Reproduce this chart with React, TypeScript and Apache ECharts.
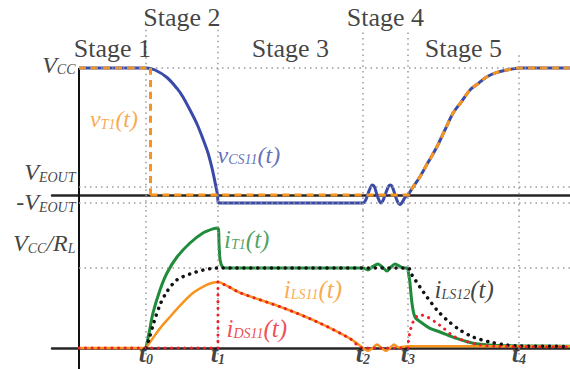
import React, { useEffect, useRef } from "react";
import * as echarts from "echarts";

type Pt = [number, number];

const SERIF = "Liberation Serif";
const BLUE = "#3a4aa8";
const ORANGE = "#f7941d";
const GREEN = "#1f8b3b";
const RED = "#ec2028";
const INK = "#111111";
const GUIDE = "#9a9a9a";

// Time axis (arbitrary units) and the switching instants t0..t4
const X_MIN = -3.75;
const X_MAX = 68.2;
const tInstants = [9.3, 19.3, 39.44, 45.69, 61.1];
const tSubscripts = ["0", "1", "2", "3", "4"];
const tGuideTop = [1.3, 1.3, 1.28, 1.28, 1.1];

// Stage names, placed between consecutive instants
const stageNames = ["Stage 1", "Stage 2", "Stage 3", "Stage 4", "Stage 5"];
const stageBounds = [0, ...tInstants];
const stageLevel = [1.157, 1.394, 1.157, 1.394, 1.157];

// Voltage panel (normalised to V_CC)
const V_MIN = -0.118;
const V_MAX = 1.535;
const vLevels = [1, 0.063, -0.063];
const vLevelLabels = ["{m|V}{s|CC}", "{m|V}{s|EOUT}", "{m|-V}{s|EOUT}"];
const vLevelOffsets = [-3, -15, -1];

// Current panel (normalised to V_CC / R_L)
const I_MIN = -0.2625;
const I_MAX = 1.725;
const iLevels = [1];
const iLevelLabels = ["{m|V}{s|CC}{m|/R}{s|L}"];
const iLevelOffsets = [-25];

// v_CS11: fall during stage 2
const vCS11Fall: Pt[] = [
  [9.3, 1], [10.56, 0.984], [12.22, 0.925], [13.61, 0.839], [14.44, 0.772],
  [15.42, 0.669], [16.39, 0.559], [17.22, 0.441], [17.92, 0.331], [18.47, 0.213],
  [18.89, 0.102], [19.24, 0], [19.38, -0.063],
];
// v_CS11: resonant ripple during stage 4
const vCS11Ripple: Pt[] = [
  [39.44, -0.063], [39.86, -0.035], [40.2, 0.02], [40.56, 0.068], [40.76, 0.079],
  [41.04, 0.065], [41.39, 0.0], [41.74, -0.05], [41.94, -0.063], [42.22, -0.045],
  [42.64, 0.02], [42.99, 0.068], [43.26, 0.079], [43.54, 0.062], [43.96, -0.01],
  [44.31, -0.06], [44.58, -0.075], [44.86, -0.06], [45.28, -0.02],
];
// Common rising edge of v_T1 and v_CS11 in stage 5
const vRise: Pt[] = [
  [45.69, 0], [46.25, 0.05], [47.36, 0.144], [48.47, 0.255], [49.72, 0.38],
  [50.83, 0.512], [51.94, 0.643], [53.06, 0.73], [54.31, 0.827], [55.42, 0.876],
  [56.67, 0.931], [58.06, 0.965], [59.44, 0.984], [61.25, 1.0], [68.2, 1.0],
];
const vT1Step = 9.93;

// i_T1
const iT1Rise: Pt[] = [
  [9.31, 0], [9.8, 0.22], [10.28, 0.44], [11.25, 0.725], [12.22, 0.9375],
  [13.61, 1.1375], [15.42, 1.3125], [17.22, 1.4375], [18.61, 1.49], [19.31, 1.5],
  [19.45, 1.3], [19.6, 1.1], [19.95, 1.01], [20.4, 1.0],
];
const iT1Ripple: Pt[] = [
  [39.44, 1.0], [40.14, 0.975], [40.83, 1.02], [41.53, 1.05], [42.15, 1.01],
  [42.78, 0.9625], [43.33, 1.01], [43.89, 1.05], [44.58, 1.02], [45.0, 1.0], [45.56, 1.0],
];
const iT1Fall: Pt[] = [
  [45.83, 0.9], [45.97, 0.8125], [46.25, 0.5625], [46.67, 0.3875], [47.64, 0.3125],
  [48.75, 0.246], [50.14, 0.2], [52.45, 0.12], [54.76, 0.06], [57.54, 0.035],
  [60.3, 0.027], [68.2, 0.022],
];

// i_LS11
const iLS11Rise: Pt[] = [
  [9.31, 0], [10.32, 0.13], [11.25, 0.245], [12.64, 0.39], [14.03, 0.53],
  [15.87, 0.69], [17.73, 0.79], [18.7, 0.818],
];
const iLS11Decay: Pt[] = [
  [19.3, 0.825], [20.6, 0.775], [22.4, 0.69], [28.4, 0.5], [33.0, 0.33],
  [37.6, 0.12], [39.44, 0],
];
const iLS11Ripple: Pt[] = [
  [40.14, -0.035], [40.8, 0.0], [41.39, 0.045], [42.0, 0.0], [42.64, -0.035],
  [43.2, 0], [43.75, 0.045], [44.4, 0.005], [45.0, 0.015], [45.69, 0.022], [68.2, 0.022],
];

// i_LS12
const iLS12: Pt[] = [
  [9.31, 0], [9.72, 0.11], [10.42, 0.325], [11.25, 0.54], [12.18, 0.7],
  [13.57, 0.85], [15.42, 0.925], [17.26, 0.975], [18.6, 0.995], [19.3, 1.0],
  [45.69, 1.0], [46.25, 0.9125], [47.36, 0.7625], [48.33, 0.6375], [49.72, 0.475],
  [51.11, 0.35], [52.92, 0.225], [54.72, 0.1375], [57.08, 0.075], [59.44, 0.0375],
  [61.25, 0.025], [68.2, 0.02],
];

// i_DS11 recovery after t3
const iDS11Recovery: Pt[] = [
  [45.69, 0], [45.8, 0.12], [45.97, 0.2], [46.25, 0.29], [46.67, 0.37],
  [47.3, 0.415], [48.33, 0.39], [49.72, 0.31], [50.6, 0.25], [52.0, 0.15],
  [53.85, 0.08], [55.7, 0.04], [58.0, 0.02], [68.2, 0.012],
];

// Curve annotations: [grid, x, y, rich text, colour, main size, sub size]
const curveNotes: [number, number, number, string, string, number, number][] = [
  [0, 4.86, 0.598, "{m|v}{s|T1}{m|(t)}", ORANGE, 24, 14],
  [0, 23.6, 0.315, "{m|v}{s|CS11}{m|(t)}", BLUE, 24, 14],
  [1, 23.3, 1.36, "{m|i}{s|T1}{m|(t)}", GREEN, 25, 14],
  [1, 32.5, 0.7375, "{m|i}{s|LS11}{m|(t)}", ORANGE, 25, 14],
  [1, 24.7, 0.25, "{m|i}{s|DS11}{m|(t)}", RED, 25, 14],
  [1, 53.5, 0.7375, "{m|i}{s|LS12}{m|(t)}", INK, 25, 14],
];

const GAP = ["-", "-"];
const joinPieces = (...parts: Pt[][]) =>
  parts.flatMap((p, i) => (i ? [GAP, ...p] : p)) as any[];

const rich = (size: number, sub: number, color: string, weight = "normal", lh = size) => ({
  m: { fontFamily: SERIF, fontStyle: "italic", fontWeight: weight, fontSize: size, color, verticalAlign: "bottom", lineHeight: lh },
  s: { fontFamily: SERIF, fontStyle: "italic", fontWeight: weight, fontSize: sub, color, verticalAlign: "bottom", lineHeight: Math.min(sub, lh) },
});

const guideStyle = { type: [1.5, 4], color: GUIDE, width: 1.5 };

const textSeries = (grid: number, points: Pt[], texts: string[], label: any, offsets?: number[]) => ({
  type: "scatter",
  xAxisIndex: grid,
  yAxisIndex: grid,
  silent: true,
  z: 10,
  symbol: "circle",
  symbolSize: 1,
  itemStyle: { color: "rgba(0,0,0,0)" },
  emphasis: { disabled: true },
  data: points.map((p, i) => ({
    value: p,
    label: offsets ? { offset: [0, offsets[i]] } : undefined,
  })),
  label: { show: true, formatter: (p: any) => texts[p.dataIndex], ...label },
});

const lineSeries = (grid: number, data: any[], style: any, z: number, smooth: number | boolean = 0.3) => ({
  type: "line",
  xAxisIndex: grid,
  yAxisIndex: grid,
  data,
  smooth,
  connectNulls: false,
  showSymbol: false,
  symbol: "none",
  silent: true,
  z,
  lineStyle: style,
  emphasis: { disabled: true },
});

const buildOption = () => {
  const vGuides = [
    ...tInstants.map((t, i) => [{ coord: [t, tGuideTop[i]] }, { coord: [t, V_MIN] }]),
    ...vLevels.map((v) => [{ coord: [0, v] }, { coord: [X_MAX, v] }]),
  ];
  const iGuides = [
    ...tInstants.map((t) => [{ coord: [t, I_MAX] }, { coord: [t, -0.09] }]),
    ...iLevels.map((v) => [{ coord: [0, v] }, { coord: [X_MAX, v] }]),
  ];
  const markLine = (data: any[]) => ({
    silent: true,
    symbol: ["none", "none"],
    label: { show: false },
    lineStyle: guideStyle,
    emphasis: { disabled: true },
    data,
  });

  const axisLineStyle = { color: "#262626", width: 2.5 };
  const xAxis = [0, 1].map((g) => ({
    type: "value",
    gridIndex: g,
    min: X_MIN,
    max: X_MAX,
    axisLine: { show: true, onZero: true, lineStyle: axisLineStyle },
    axisTick: { show: false },
    axisLabel: { show: false },
    splitLine: { show: false },
  }));
  const yAxis = [
    [V_MIN, V_MAX],
    [I_MIN, I_MAX],
  ].map(([mn, mx], g) => ({
    type: "value",
    gridIndex: g,
    min: mn,
    max: mx,
    axisLine: { show: false },
    axisTick: { show: false },
    axisLabel: { show: false },
    splitLine: { show: false },
  }));

  const dotted = (color: string, width: number, gap: number) => ({
    color, width, type: [0.1, gap], cap: "round",
  });

  const series: any[] = [
    // voltage panel
    {
      ...lineSeries(0, [[0, 1], [0, V_MIN]], { color: INK, width: 2 }, 1, false),
      markLine: markLine(vGuides),
    },
    lineSeries(0, [[0, 1], ...vCS11Fall, ...vCS11Ripple, ...vRise], { color: BLUE, width: 3 }, 3),
    lineSeries(
      0,
      joinPieces(
        [[0, 1], [vT1Step, 1]],
        [[vT1Step, 1], [vT1Step, 0]],
        [[vT1Step, 0], ...vRise]
      ),
      { color: ORANGE, width: 3, type: [7, 5] },
      4
    ),
    // current panel
    {
      ...lineSeries(1, [[0, I_MAX], [0, I_MIN]], { color: INK, width: 2 }, 1, false),
      markLine: markLine(iGuides),
    },
    lineSeries(1, [...iT1Rise, ...iT1Ripple, ...iT1Fall], { color: GREEN, width: 3 }, 3),
    lineSeries(
      1,
      joinPieces([[0, 0], [9.31, 0]], [...iLS11Rise, ...iLS11Decay, ...iLS11Ripple]),
      { color: ORANGE, width: 2.5 },
      4
    ),
    lineSeries(1, iLS12, dotted(INK, 3.5, 6.8), 5),
    lineSeries(
      1,
      joinPieces(
        [[0, 0], [tInstants[1], 0]],
        [[tInstants[1], 0], [tInstants[1], iLS11Decay[0][1]]],
        [...iLS11Decay, [tInstants[3], 0]],
        iDS11Recovery
      ),
      dotted(RED, 3, 6.5),
      6
    ),
    // stage names
    textSeries(
      0,
      stageNames.map((_, i) => [(stageBounds[i] + stageBounds[i + 1]) / 2, stageLevel[i]] as Pt),
      stageNames,
      { position: "inside", fontFamily: SERIF, fontSize: 26, color: INK }
    ),
    // level labels
    textSeries(0, vLevels.map((v) => [0, v] as Pt), vLevelLabels,
      { position: "left", distance: 3, rich: rich(24, 14, INK) }, vLevelOffsets),
    textSeries(1, iLevels.map((v) => [0, v] as Pt), iLevelLabels,
      { position: "left", distance: 3, rich: rich(24, 14, INK) }, iLevelOffsets),
    // time labels
    textSeries(1, tInstants.map((t) => [t, 0] as Pt), tSubscripts.map((s) => `{m|t}{s|${s}}`),
      { position: "inside", offset: [0, 9], rich: rich(26, 14, INK, "bold", 19) }),
    // curve names
    ...curveNotes.map(([g, x, y, txt, color, size, sub]) =>
      textSeries(g, [[x, y]], [txt], { position: "inside", rich: rich(size, sub, color) })
    ),
  ];

  return {
    animation: false,
    backgroundColor: "#ffffff",
    grid: [
      { left: 52, top: 0, width: 518, height: 210 },
      { left: 52, top: 210, width: 518, height: 159 },
    ],
    xAxis,
    yAxis,
    series,
  };
};

export default function App() {
  const ref = useRef<HTMLDivElement>(null);
  useEffect(() => {
    if (!ref.current) return;
    const chart = echarts.init(ref.current, undefined, { renderer: "svg" });
    chart.setOption(buildOption() as any);
    return () => chart.dispose();
  }, []);
  return (
    <div
      ref={ref}
      style={{ position: "absolute", left: 0, top: 0, width: 570, height: 369 }}
    />
  );
}
